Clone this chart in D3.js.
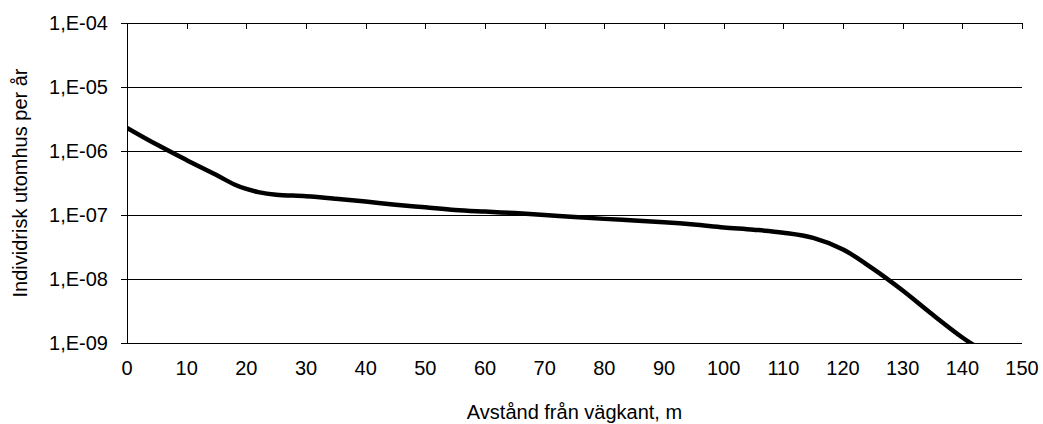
<!DOCTYPE html>
<html>
<head>
<meta charset="utf-8">
<script src="https://cdn.jsdelivr.net/npm/d3@7"></script>
<style>
  body { margin: 0; background: #fff; }
  svg text { font-family: "Liberation Sans", Arial, sans-serif; fill: #000; }
</style>
</head>
<body>
<svg id="chart"></svg>
<script>
// distance from road edge (m) and individual risk outdoors per year
const distance = [0, 5, 10, 15, 18, 20, 22, 25, 30, 35, 40, 45, 50, 55, 60, 65, 70, 75, 80, 85, 90, 95, 100, 105, 110, 115, 120, 125, 130, 135, 140, 143];
const risk = [2.3e-6, 1.26e-6, 7.2e-7, 4.2e-7, 3.0e-7, 2.55e-7, 2.28e-7, 2.08e-7, 1.97e-7, 1.8e-7, 1.62e-7, 1.45e-7, 1.32e-7, 1.2e-7, 1.13e-7, 1.07e-7, 1.0e-7, 9.3e-8, 8.7e-8, 8.2e-8, 7.7e-8, 7.1e-8, 6.4e-8, 5.9e-8, 5.3e-8, 4.4e-8, 2.9e-8, 1.45e-8, 6.6e-9, 2.78e-9, 1.22e-9, 8e-10];

const xTicks = [0, 10, 20, 30, 40, 50, 60, 70, 80, 90, 100, 110, 120, 130, 140, 150];
const yTicks = [1e-9, 1e-8, 1e-7, 1e-6, 1e-5, 1e-4];

const X_LABEL = "Avstånd från vägkant, m";
const Y_LABEL = "Individrisk utomhus per år";

const MARGIN = {top: 23, right: 21, bottom: 81, left: 127};
const WIDTH = 1043, HEIGHT = 424;
const CHART_WIDTH = WIDTH - MARGIN.left - MARGIN.right;
const CHART_HEIGHT = HEIGHT - MARGIN.top - MARGIN.bottom;

const svg = d3.select("#chart").attr("width", WIDTH).attr("height", HEIGHT);

const xScale = d3.scaleLinear().domain([0, 150]).range([0, CHART_WIDTH]);
const yScale = d3.scaleLog().domain([1e-9, 1e-4]).range([CHART_HEIGHT, 0]);

const fmt = v => "1,E-" + String(-Math.round(Math.log10(v))).padStart(2, "0");

const chart = svg.append("g").attr("transform", `translate(${MARGIN.left}, ${MARGIN.top})`);

// clip for the line (it runs out below 1,E-09)
chart.append("clipPath").attr("id", "clip")
	.append("rect").attr("x", 0).attr("y", -5).attr("width", CHART_WIDTH).attr("height", CHART_HEIGHT + 5);

// Y-axis with gridlines
const yAxis = chart.append("g")
	.call(d3.axisLeft(yScale).tickValues(yTicks).tickFormat(fmt).tickSize(6).tickPadding(13).tickSizeOuter(0));
yAxis.select(".domain").attr("stroke", "#000");
yAxis.selectAll(".tick line").attr("stroke", "#000").attr("x2", CHART_WIDTH).attr("x1", -6);
yAxis.selectAll(".tick text").attr("font-size", 20).attr("font-family", "Liberation Sans, Arial, sans-serif");
yAxis.attr("shape-rendering", "crispEdges");

// X-axis: ticks hang from the top line, labels sit at the bottom
const xTop = chart.append("g")
	.call(d3.axisBottom(xScale).tickValues(xTicks).tickSize(6).tickFormat("").tickSizeOuter(0))
	.attr("shape-rendering", "crispEdges");
xTop.select(".domain").remove();
xTop.selectAll(".tick line").attr("stroke", "#000");

chart.append("g")
	.selectAll("text")
	.data(xTicks)
	.join("text")
	.attr("x", d => xScale(d))
	.attr("y", CHART_HEIGHT + 32)
	.attr("text-anchor", "middle")
	.attr("font-size", 20)
	.text(d => d);

// axis titles
svg.append("text")
	.attr("x", MARGIN.left + CHART_WIDTH / 2)
	.attr("y", 419)
	.attr("text-anchor", "middle")
	.attr("font-size", 20)
	.text(X_LABEL);

svg.append("text")
	.attr("transform", `translate(27, ${MARGIN.top + CHART_HEIGHT / 2}) rotate(-90)`)
	.attr("text-anchor", "middle")
	.attr("font-size", 20)
	.text(Y_LABEL);

// risk curve
const line = d3.line()
	.curve(d3.curveCatmullRom.alpha(0.5))
	.x((d, i) => xScale(distance[i]))
	.y(d => yScale(d));

chart.append("path")
	.datum(risk)
	.attr("clip-path", "url(#clip)")
	.attr("fill", "none")
	.attr("stroke", "#000")
	.attr("stroke-width", 4.5)
	.attr("stroke-linejoin", "round")
	.attr("d", line);
</script>
</body>
</html>
